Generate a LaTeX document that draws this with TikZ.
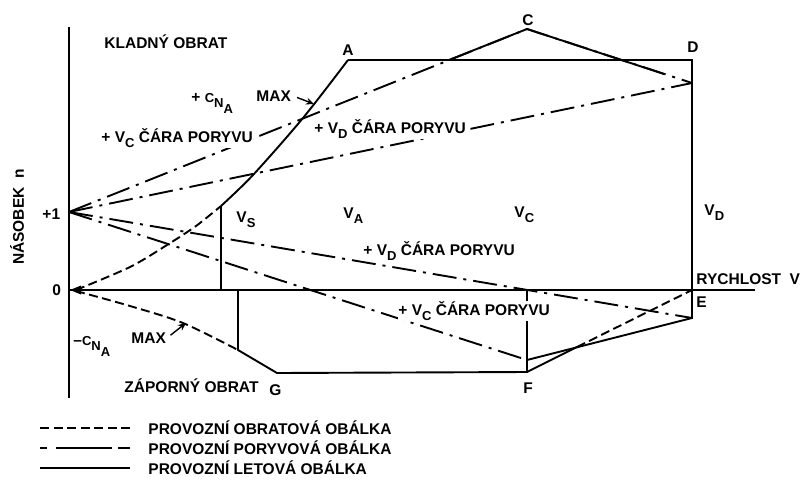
\documentclass[tikz,border=0pt]{standalone}
\usepackage{fontspec}
\setmainfont{Liberation Sans}
\usetikzlibrary{arrows.meta}
\tikzset{
every picture/.style={
line width=1.9pt
}}
\tikzset{
oper/.style={dash pattern=on 9pt off 4.5pt},
gust/.style={dash pattern=on 24pt off 7pt on 3pt off 7pt},
lbl/.style={font=\fontsize{15.5}{18}\selectfont\bfseries, inner sep=0.5pt, fill=white},
maxarrow/.style={-{Stealth[length=8pt,width=7pt]}, line width=1.4pt}
}
\newcommand{\lsub}[1]{\raisebox{-5.5pt}{\fontsize{13}{13}\selectfont #1}}

\begin{document}
\begin{tikzpicture}[x=1pt,y=-1pt]
  \useasboundingbox (0,0) rectangle (802,479);

  % corner points of the envelope
  \coordinate (O) at (69,290);
  \coordinate (P1) at (69,212);
  \coordinate (A) at (348,60);
  \coordinate (C) at (527,29);
  \coordinate (D) at (692,60);
  \coordinate (Dg) at (692,83);
  \coordinate (E) at (692,290);
  \coordinate (Eg) at (692,318);
  \coordinate (F) at (527,372);
  \coordinate (Fg) at (527,360);
  \coordinate (VC0) at (527,290);
  \coordinate (G) at (277,373);
  \coordinate (S) at (221,206);
  \coordinate (S0) at (221,290);
  \coordinate (Gs) at (238,350);
  \coordinate (Gs0) at (238,290);
  \coordinate (AC) at (449,60);
  \coordinate (CD) at (664,74);
  \coordinate (FE) at (577,347);

  % axes
  \coordinate (ntop) at (69,27);
  \coordinate (nbot) at (69,398);
  \coordinate (vend) at (755,290);
  \draw (ntop) -- (nbot);
  \draw [line width=1.3pt] (O) -- (vend);
  \fill (70,290) -- (81,285.5) -- (81,294.5) -- cycle;

  % gust lines
  \draw [gust] (P1) -- (C) -- (Dg);
  \draw [gust] (P1) -- (Dg);
  \draw [gust] (P1) -- (Eg);
  \draw [gust] (P1) -- (Fg);

  % manoeuvre envelope
  \draw [oper] plot [smooth] coordinates {(76,290) (130,267) (167,245) (196,226) (S)};
  \draw [oper] plot [smooth] coordinates {(76,291) (130,306) (183,323) (Gs)};
  \draw [oper] (FE) -- (E);

  % flight envelope
  \draw plot [smooth] coordinates {(S) (253,175) (303,118) (A)};
  \draw (A) -- (D) -- (Eg) -- (Fg);
  \draw (AC) -- (C) -- (CD);
  \draw (S0) -- (S);
  \draw (Gs0) -- (Gs) -- (G) -- (F) -- (VC0);
  \draw (F) -- (FE);

  % labels
  \node [lbl, anchor=base west] (kladny) at (103,48) {KLADNÝ OBRAT};
  \node [lbl, anchor=base] (lA) at (348,55) {A};
  \node [lbl, anchor=base] (lC) at (528,25) {C};
  \node [lbl, anchor=base] (lD) at (693,52) {D};
  \node [lbl, anchor=base west] (maxu) at (255,101) {MAX};
  \node [lbl, anchor=base west] (cnap) at (190,102) {+ {\fontsize{13}{13}\selectfont C\lsub{N\lsub{A}}}};
  \node [lbl, anchor=base west] (gcu) at (100,142) {+ V\lsub{C} ČÁRA PORYVU};
  \node [lbl, anchor=base west] (gdu) at (313,133) {+ V\lsub{D} ČÁRA PORYVU};
  \node [lbl, anchor=base west] (vs) at (235,222) {V\lsub{S}};
  \node [lbl, anchor=base west] (va) at (342,218) {V\lsub{A}};
  \node [lbl, anchor=base west] (vc) at (513,217) {V\lsub{C}};
  \node [lbl, anchor=base west] (vd) at (703,215) {V\lsub{D}};
  \node [lbl, anchor=base west] (gdl) at (362,255) {+ V\lsub{D} ČÁRA PORYVU};
  \node [lbl, anchor=base west] (gcl) at (397,315) {+ V\lsub{C} ČÁRA PORYVU};
  \node [lbl, anchor=base west] (speed) at (695,284) {RYCHLOST\ \ V};
  \node [lbl, anchor=base west] (lE) at (695,307) {E};
  \node [lbl, anchor=base] (lF) at (528,393) {F};
  \node [lbl, anchor=base west] (lG) at (268,395) {G};
  \node [lbl, anchor=base west] (zaporny) at (123,392) {ZÁPORNÝ OBRAT};
  \node [lbl, anchor=base west] (cnam) at (72,345) {–{\fontsize{13}{13}\selectfont C\lsub{N\lsub{A}}}};
  \node [lbl, anchor=base west] (maxl) at (130,343) {MAX};
  \node [lbl, anchor=base west] (lp1) at (41,219) {+1};
  \node [lbl, anchor=base west] (l0) at (51,295) {0};
  \node [lbl, rotate=90] (nasobek) at (17,217) {NÁSOBEK\ \ n};

  % MAX arrows
  \coordinate (mu) at (314,104);
  \coordinate (ml) at (186,323);
  \draw [maxarrow, shorten <=5pt] (maxu.east) -- (mu);
  \draw [maxarrow, shorten <=4pt] (maxl.east) -- (ml);

  % legend
  \node [lbl, anchor=base west] (leg1) at (147,434) {PROVOZNÍ OBRATOVÁ OBÁLKA};
  \node [lbl, anchor=base west] (leg2) at (147,454) {PROVOZNÍ PORYVOVÁ OBÁLKA};
  \node [lbl, anchor=base west] (leg3) at (147,474) {PROVOZNÍ LETOVÁ OBÁLKA};
  \coordinate (k1) at (40,428);
  \coordinate (k1e) at (133,428);
  \coordinate (k2) at (40,448);
  \coordinate (k2e) at (130,448);
  \coordinate (k3) at (40,468);
  \coordinate (k3e) at (130,468);
  \draw [oper] (k1) -- (k1e);
  \draw [dash pattern=on 7pt off 9pt on 56pt off 6pt on 12pt off 4pt] (k2) -- (k2e);
  \draw (k3) -- (k3e);
\end{tikzpicture}
\end{document}
